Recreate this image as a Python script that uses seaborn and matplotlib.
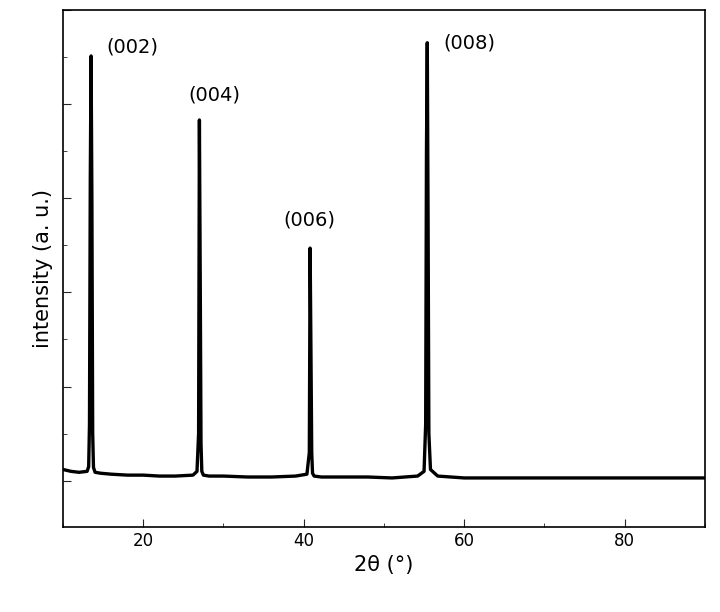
import matplotlib.pyplot as plt
import seaborn as sns
import pandas as pd
from matplotlib.ticker import MultipleLocator, NullFormatter

# Points (2theta in degrees, intensity in a.u.)
two_theta = [10.0, 11.0, 12.0, 13.0, 13.2, 13.3, 13.4, 13.5, 13.6, 13.7, 13.8, 14.0, 14.7,
             16.0, 18.0, 20.0, 22.0, 24.0, 26.2, 26.7, 26.9, 27.0, 27.1, 27.2, 27.3, 27.5, 28.2,
             30.0, 33.0, 36.0, 39.0, 40.4, 40.7, 40.8, 40.9, 41.0, 41.1, 41.3, 42.2,
             45.0, 48.0, 51.0, 54.2, 55.0, 55.2, 55.3, 55.4, 55.5, 55.6, 55.8, 56.7,
             60.0, 65.0, 70.0, 75.0, 80.0, 85.0, 90.0]
intensity = [0.12, 0.10, 0.09, 0.10, 0.15, 0.6, 3.2, 4.51, 3.0, 0.5, 0.14, 0.09, 0.08,
             0.07, 0.06, 0.06, 0.05, 0.05, 0.06, 0.10, 0.5, 3.83, 2.2, 0.4, 0.10, 0.06, 0.05,
             0.05, 0.04, 0.04, 0.05, 0.07, 0.3, 2.47, 1.4, 0.3, 0.08, 0.05, 0.04,
             0.04, 0.04, 0.03, 0.05, 0.10, 0.6, 3.5, 4.65, 2.8, 0.5, 0.12, 0.05,
             0.03, 0.03, 0.03, 0.03, 0.03, 0.03, 0.03]

peak_labels = ['(002)', '(004)', '(006)', '(008)']
label_x = [18.7, 28.9, 40.7, 60.6]
label_y = [4.6, 4.1, 2.77, 4.65]

df = pd.DataFrame({'two_theta': two_theta, 'intensity': intensity})

sns.set_style('ticks')
plt.rcParams['font.family'] = ['DejaVu Sans']
fig = plt.figure(figsize=(7.2, 6.12), dpi=100)
ax = fig.add_axes([0.0875, 0.139, 0.8915, 0.845])

sns.lineplot(data=df, x='two_theta', y='intensity', color='black', linewidth=2.4, ax=ax)

for lab, lx, ly in zip(peak_labels, label_x, label_y):
    ax.text(lx, ly, lab, fontsize=14, ha='center', va='center', color='black')

ax.set_xlim(10, 90)
ax.set_ylim(-0.49, 5.0)
ax.xaxis.set_major_locator(MultipleLocator(20))
ax.xaxis.set_minor_locator(MultipleLocator(10))
ax.yaxis.set_major_locator(MultipleLocator(1))
ax.yaxis.set_minor_locator(MultipleLocator(0.5))
ax.yaxis.set_major_formatter(NullFormatter())
ax.tick_params(which='major', direction='in', length=6, labelsize=12, labelcolor='black')
ax.tick_params(which='minor', direction='in', length=3)
for s in ax.spines.values():
    s.set_linewidth(1.2)
    s.set_color('black')
ax.set_xlabel('2θ (°)', fontsize=15, color='black')
ax.set_ylabel('intensity (a. u.)', fontsize=15, color='black')

fig.savefig('out.png', dpi=100)
